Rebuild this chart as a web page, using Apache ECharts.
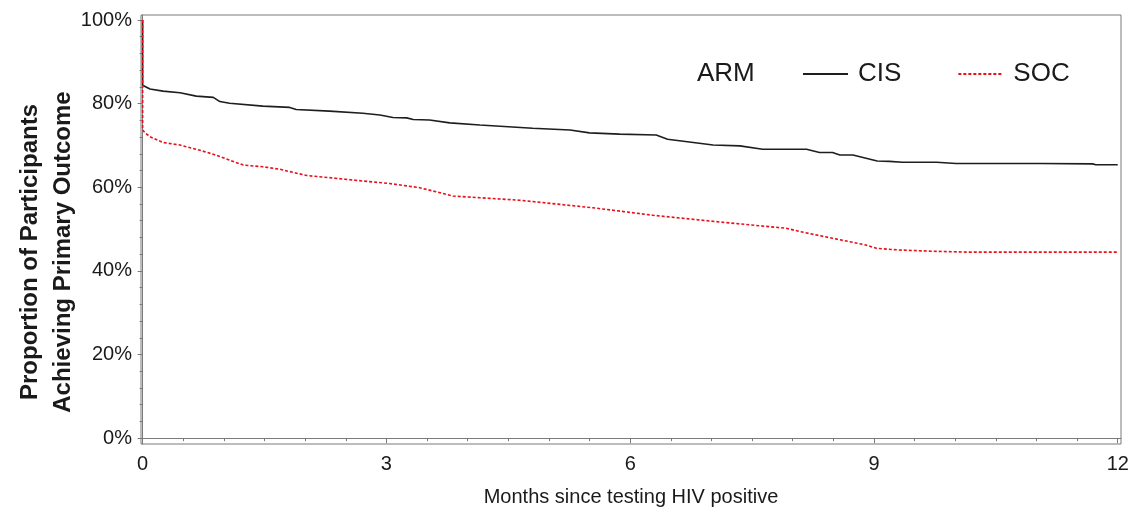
<!DOCTYPE html>
<html>
<head>
<meta charset="utf-8">
<script src="https://cdn.jsdelivr.net/npm/echarts@6/dist/echarts.min.js"></script>
<style>
html,body{margin:0;padding:0;background:#fff;}
#chart{width:1129px;height:507px;}
</style>
</head>
<body>
<div id="chart"></div>
<script>
// ---- data ----
const cisTime  = [0, 0, 0.09, 0.25, 0.46, 0.66, 0.87, 0.95, 1.07, 1.48, 1.81, 1.89, 2.30, 2.71, 2.92, 3.08, 3.25, 3.33, 3.53, 3.78, 4.15, 4.80, 5.26, 5.50, 5.87, 6.32, 6.46, 7.02, 7.35, 7.63, 8.17, 8.33, 8.49, 8.58, 8.74, 9.04, 9.19, 9.35, 9.77, 10.01, 11.04, 11.06, 11.69, 11.73, 12.0];
const cisValue = [100, 84.4, 83.5, 83.0, 82.6, 81.8, 81.5, 80.5, 80.1, 79.4, 79.1, 78.6, 78.2, 77.7, 77.3, 76.7, 76.6, 76.2, 76.1, 75.4, 74.9, 74.1, 73.7, 73.0, 72.7, 72.5, 71.5, 70.1, 69.9, 69.1, 69.1, 68.3, 68.3, 67.7, 67.7, 66.3, 66.2, 66.0, 66.0, 65.7, 65.7, 65.6, 65.6, 65.4, 65.4];
const socTime  = [0, 0, 0.03, 0.09, 0.25, 0.46, 0.66, 0.87, 1.07, 1.24, 1.48, 1.69, 2.02, 2.30, 2.71, 3.04, 3.41, 3.82, 4.64, 5.54, 6.28, 7.10, 7.92, 8.09, 8.49, 8.90, 9.03, 9.31, 9.72, 10.13, 12.0];
const socValue = [100, 73.7, 73.0, 72.1, 70.7, 70.1, 69.1, 67.9, 66.5, 65.3, 64.9, 64.3, 62.8, 62.3, 61.5, 60.9, 59.9, 57.9, 56.9, 55.1, 53.3, 51.7, 50.2, 49.4, 47.8, 46.2, 45.4, 45.0, 44.7, 44.5, 44.5];

const seriesNames = ['CIS', 'SOC'];
const xMajorTicks = [0, 3, 6, 9, 12];
const xMinorTicks = [0.5, 1, 1.5, 2, 2.5, 3.5, 4, 4.5, 5, 5.5, 6.5, 7, 7.5, 8, 8.5, 9.5, 10, 10.5, 11, 11.5];
const yMajorTicks = [0, 20, 40, 60, 80, 100];
const yMinorTicks = [4, 8, 12, 16, 24, 28, 32, 36, 44, 48, 52, 56, 64, 68, 72, 76, 84, 88, 92, 96];
const xTitle = 'Months since testing HIV positive';
const yTitle1 = 'Proportion of Participants';
const yTitle2 = 'Achieving Primary Outcome';
const legendTitle = 'ARM';

const pair = (t, v) => t.map((x, i) => [x, v[i]]);

const axisColor = '#7a7a7a';
const textColor = '#1a1a1a';
const font = 'Liberation Sans, Arial, sans-serif';

const chart = echarts.init(document.getElementById('chart'), null, {renderer: 'canvas'});
chart.setOption({
  animation: false,
  backgroundColor: '#fff',
  grid: {left: 141, right: 8, top: 15, bottom: 63, outerBoundsMode: 'none', containLabel: false,
         show: true, borderColor: axisColor, borderWidth: 1, backgroundColor: 'transparent'},
  legend: {
    data: seriesNames,
    left: 797, top: 56,
    itemWidth: 45, itemHeight: 14, itemGap: 56,
    itemStyle: {opacity: 0},
    textStyle: {fontSize: 26, color: textColor, fontFamily: font, padding: [0, 0, 0, 5]}
  },
  graphic: [
    {type: 'text', left: 697, top: 61, style: {text: legendTitle, fontSize: 26, fill: textColor, fontFamily: font}},
    {type: 'text', x: 30, y: 252, rotation: Math.PI / 2, style: {text: yTitle1, fontSize: 24, fontWeight: 'bold', fill: textColor, fontFamily: font, align: 'center', verticalAlign: 'middle'}},
    {type: 'text', x: 63, y: 252, rotation: Math.PI / 2, style: {text: yTitle2, fontSize: 24, fontWeight: 'bold', fill: textColor, fontFamily: font, align: 'center', verticalAlign: 'middle'}}
  ],
  xAxis: [
    {
      type: 'value', min: -0.02, max: 12.04,
      splitLine: {show: false},
      axisLine: {show: true, lineStyle: {color: axisColor}},
      axisTick: {show: true, customValues: xMajorTicks, length: 5, lineStyle: {color: axisColor}},
      axisLabel: {customValues: xMajorTicks, fontSize: 20, color: textColor, fontFamily: font, margin: 10},
      name: xTitle, nameLocation: 'middle', nameGap: 43,
      nameTextStyle: {fontSize: 20, color: textColor, fontFamily: font}
    },
    {
      type: 'value', min: -0.02, max: 12.04, position: 'bottom', gridIndex: 0,
      splitLine: {show: false},
      axisLine: {show: false},
      axisTick: {show: true, customValues: xMinorTicks, length: 3, lineStyle: {color: axisColor}},
      axisLabel: {show: false}
    }
  ],
  yAxis: [
    {
      type: 'value', min: -1.4, max: 101.2,
      splitLine: {show: false},
      axisLine: {show: true, lineStyle: {color: axisColor}},
      axisTick: {show: true, customValues: yMajorTicks, length: 5, lineStyle: {color: axisColor}},
      axisLabel: {customValues: yMajorTicks, formatter: '{value}%', fontSize: 20, color: textColor, fontFamily: font, margin: 9}
    },
    {
      type: 'value', min: -1.4, max: 101.2, position: 'left', gridIndex: 0,
      splitLine: {show: false},
      axisLine: {show: false},
      axisTick: {show: true, customValues: yMinorTicks, length: 3, lineStyle: {color: axisColor}},
      axisLabel: {show: false}
    }
  ],
  series: [
    {
      name: seriesNames[0], type: 'line', data: pair(cisTime, cisValue),
      symbol: 'none', showSymbol: false,
      lineStyle: {color: '#1e1e1e', width: 1.6, type: 'solid'},
      itemStyle: {color: '#1e1e1e'}
    },
    {
      name: seriesNames[1], type: 'line', data: pair(socTime, socValue),
      symbol: 'none', showSymbol: false,
      lineStyle: {color: '#e8101a', width: 1.6, type: [3, 2]},
      itemStyle: {color: '#e8101a'}
    }
  ]
});
</script>
</body>
</html>
